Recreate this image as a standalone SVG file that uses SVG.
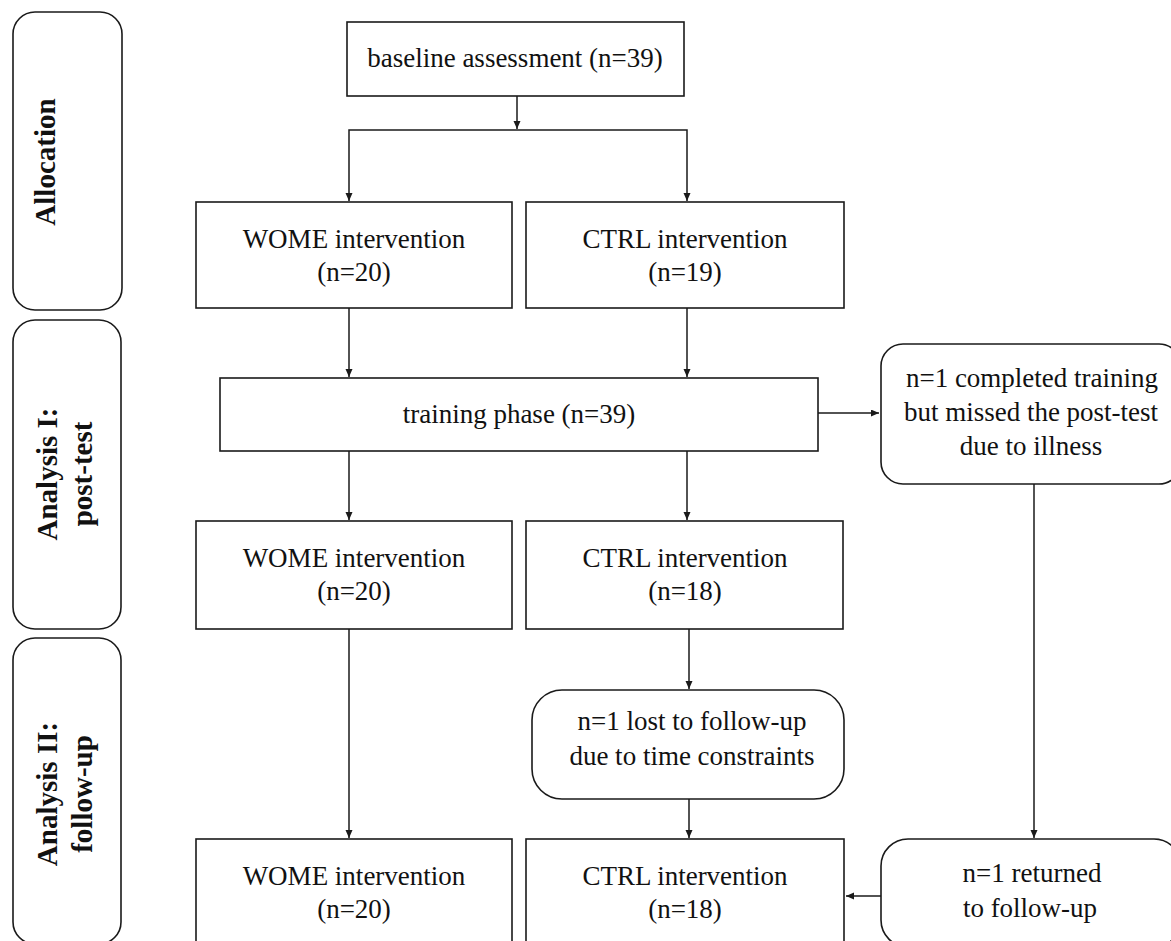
<svg xmlns="http://www.w3.org/2000/svg" width="1171" height="941" viewBox="0 0 1171 941">
  <style>
    .box { fill: #ffffff; stroke: #1a1a1a; stroke-width: 1.6; }
    .lbl { font-family: "Liberation Serif", "Times New Roman", serif; font-size: 27px; fill: #111111; text-anchor: middle; }
    .phase { font-family: "Liberation Serif", "Times New Roman", serif; font-size: 29px; font-weight: bold; fill: #111111; text-anchor: middle; }
    .wire { fill: none; stroke: #1a1a1a; stroke-width: 1.5; }
  </style>
  <defs>
    <marker id="arrow" markerUnits="userSpaceOnUse" markerWidth="9" markerHeight="8" refX="8" refY="3.5" orient="auto">
      <path d="M0,0 L8,3.5 L0,7 z" fill="#1a1a1a"/>
    </marker>
  </defs>
  <rect width="1171" height="941" fill="#ffffff"/>

  <!-- phase labels on the left -->
  <g id="phase-allocation">
    <rect class="box" x="13" y="12" width="109" height="298" rx="22"/>
    <text class="phase" transform="translate(55,162) rotate(-90)">Allocation</text>
  </g>
  <g id="phase-posttest">
    <rect class="box" x="13" y="320" width="108" height="309" rx="22"/>
    <text class="phase" transform="translate(57,474) rotate(-90)">Analysis I:</text>
    <text class="phase" transform="translate(92,474) rotate(-90)">post-test</text>
  </g>
  <g id="phase-followup">
    <rect class="box" x="13" y="638" width="108" height="306" rx="22"/>
    <text class="phase" transform="translate(57,794) rotate(-90)">Analysis II:</text>
    <text class="phase" transform="translate(92,794) rotate(-90)">follow-up</text>
  </g>

  <!-- connectors -->
  <g id="connectors">
    <path class="wire" d="M517,96 V129" marker-end="url(#arrow)"/>
    <path class="wire" d="M517,130 H349 V201" marker-end="url(#arrow)"/>
    <path class="wire" d="M517,130 H687 V201" marker-end="url(#arrow)"/>
    <path class="wire" d="M349,308 V377" marker-end="url(#arrow)"/>
    <path class="wire" d="M687,308 V377" marker-end="url(#arrow)"/>
    <path class="wire" d="M349,451 V520" marker-end="url(#arrow)"/>
    <path class="wire" d="M687,451 V520" marker-end="url(#arrow)"/>
    <path class="wire" d="M818,413 H879" marker-end="url(#arrow)"/>
    <path class="wire" d="M1034,484 V838" marker-end="url(#arrow)"/>
    <path class="wire" d="M689,629 V689" marker-end="url(#arrow)"/>
    <path class="wire" d="M689,799 V838" marker-end="url(#arrow)"/>
    <path class="wire" d="M349,629 V838" marker-end="url(#arrow)"/>
    <path class="wire" d="M881,896 H846" marker-end="url(#arrow)"/>
  </g>

  <!-- flow nodes -->
  <g id="baseline">
    <rect class="box" x="347" y="22" width="337" height="74"/>
    <text class="lbl" x="515" y="67">baseline assessment (n=39)</text>
  </g>
  <g id="alloc-wome">
    <rect class="box" x="196" y="202" width="316" height="106"/>
    <text class="lbl" x="354" y="248">WOME intervention</text>
    <text class="lbl" x="354" y="281">(n=20)</text>
  </g>
  <g id="alloc-ctrl">
    <rect class="box" x="526" y="202" width="318" height="106"/>
    <text class="lbl" x="685" y="248">CTRL intervention</text>
    <text class="lbl" x="685" y="281">(n=19)</text>
  </g>
  <g id="training">
    <rect class="box" x="220" y="378" width="598" height="73"/>
    <text class="lbl" x="519" y="423">training phase (n=39)</text>
  </g>
  <g id="illness">
    <rect class="box" x="881" y="344" width="300" height="140" rx="22"/>
    <text class="lbl" x="1032" y="387">n=1 completed training</text>
    <text class="lbl" x="1031" y="421">but missed the post-test</text>
    <text class="lbl" x="1031" y="455">due to illness</text>
  </g>
  <g id="post-wome">
    <rect class="box" x="196" y="521" width="316" height="108"/>
    <text class="lbl" x="354" y="567">WOME intervention</text>
    <text class="lbl" x="354" y="600">(n=20)</text>
  </g>
  <g id="post-ctrl">
    <rect class="box" x="526" y="521" width="317" height="108"/>
    <text class="lbl" x="685" y="567">CTRL intervention</text>
    <text class="lbl" x="685" y="600">(n=18)</text>
  </g>
  <g id="lost">
    <rect class="box" x="532" y="690" width="312" height="109" rx="30"/>
    <text class="lbl" x="692" y="730">n=1 lost to follow-up</text>
    <text class="lbl" x="692" y="765">due to time constraints</text>
  </g>
  <g id="fu-wome">
    <rect class="box" x="196" y="839" width="316" height="108"/>
    <text class="lbl" x="354" y="885">WOME intervention</text>
    <text class="lbl" x="354" y="918">(n=20)</text>
  </g>
  <g id="fu-ctrl">
    <rect class="box" x="526" y="839" width="318" height="108"/>
    <text class="lbl" x="685" y="885">CTRL intervention</text>
    <text class="lbl" x="685" y="918">(n=18)</text>
  </g>
  <g id="returned">
    <rect class="box" x="881" y="839" width="300" height="108" rx="27"/>
    <text class="lbl" x="1032" y="882">n=1 returned</text>
    <text class="lbl" x="1030" y="917">to follow-up</text>
  </g>
</svg>
